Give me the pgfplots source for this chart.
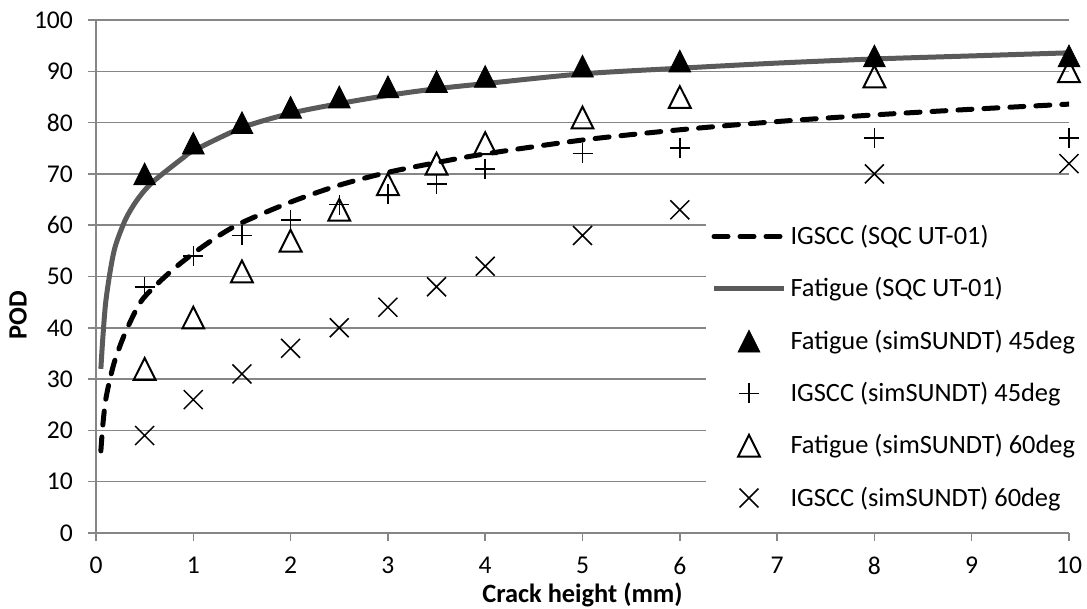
\documentclass[border=0pt]{standalone}
\usepackage{pgfplots}
\pgfplotsset{compat=1.18}
\usepackage{fontspec}
\setmainfont{Carlito}

\definecolor{gridgray}{HTML}{868686}
\definecolor{fitgray}{HTML}{5A5A5A}

\pgfplotsset{
  lineleg/.style={legend image code/.code={\draw[##1] (0pt,0pt) -- (35pt,0pt);}},
  markleg/.style={legend image code/.code={\draw[##1] plot coordinates {(17.5pt,0pt)};}},
}

\begin{document}
\begin{tikzpicture}
\begin{axis}[
  scale only axis, width=486.5pt, height=256.5pt,
  xmin=0, xmax=10, ymin=0, ymax=100,
  xtick={0,1,...,10}, ytick={0,10,...,100},
  axis x line*=bottom, axis y line*=left,
  axis line style={gridgray, line width=0.75pt},
  ymajorgrids, grid style={gridgray, line width=0.75pt},
  tick align=outside, major tick length=4pt,
  tick style={gridgray, line width=0.75pt},
  font=\fontsize{13.2}{15}\selectfont,
  /pgf/number format/assume math mode=true,
  ticklabel style={font=\fontsize{12.8}{15}\selectfont},
  yticklabel style={xshift=-4pt},
  xticklabel style={yshift=-4.5pt},
  xlabel={\textbf{Crack height (mm)}},
  ylabel={\textbf{POD}},
  x label style={at={(axis description cs:0.5,-0.12)}, anchor=center},
  y label style={at={(axis description cs:-0.0802,0.425)}, anchor=center},
  legend cell align=left,
  legend style={draw=none, fill=white, at={(axis cs:6.26,62)}, anchor=north west,
    row sep=11pt, inner sep=3pt, font=\fontsize{13.2}{15}\selectfont},
]
\addplot[black, line width=2.5pt, dash pattern=on 7pt off 6pt, line cap=round, smooth, lineleg]
  coordinates {
    (0.05,16) (0.07,21) (0.1,26) (0.15,30.5) (0.2,34) (0.3,39) (0.45,44.8)
    (0.6,48) (0.8,51.5) (1,54.5) (1.25,57.8) (1.5,60.5) (2,64.5) (2.5,67.8)
    (3,70.3) (3.5,72.2) (4,73.9) (5,76.6) (6,78.6) (7,80.2) (8,81.5)
    (9,82.6) (10,83.6)
  };
\addlegendentry{IGSCC (SQC UT-01)}
\addplot[fitgray, line width=2.5pt, smooth, lineleg]
  coordinates {
    (0.05,32) (0.07,38) (0.1,45) (0.15,51.5) (0.2,56) (0.3,61) (0.4,64.3)
    (0.5,66.8) (0.6,68.7) (0.75,71) (0.9,73.2) (1,74.5) (1.5,79) (2,81.8)
    (2.5,83.7) (3,85.3) (3.5,86.6) (4,87.6) (5,89.5) (6,90.6) (7,91.6)
    (8,92.4) (9,93) (10,93.6)
  };
\addlegendentry{Fatigue (SQC UT-01)}
\addplot[only marks, mark=triangle*, mark size=6.3pt, black,
  mark options={fill=black, yscale=1.15, yshift=-1.6pt}, markleg]
  coordinates {
    (0.5,70) (1,76) (1.5,80) (2,83) (2.5,85) (3,87) (3.5,88) (4,89)
    (5,91) (6,92) (8,93) (10,93)
  };
\addlegendentry{Fatigue (simSUNDT) 45deg}
\addplot[only marks, mark=+, mark size=5pt, black, mark options={line width=0.75pt}, markleg]
  coordinates {
    (0.5,48) (1,54) (1.5,58) (2,61) (2.5,64) (3,66) (3.5,68) (4,71)
    (5,74) (6,75) (8,77) (10,77)
  };
\addlegendentry{IGSCC (simSUNDT) 45deg}
\addplot[only marks, mark=triangle, mark size=6.3pt, black,
  mark options={line width=1pt, yscale=1.15, yshift=-1.6pt}, markleg]
  coordinates {
    (0.5,32) (1,42) (1.5,51) (2,57) (2.5,63) (3,68) (3.5,72) (4,76)
    (5,81) (6,85) (8,89) (10,90)
  };
\addlegendentry{Fatigue (simSUNDT) 60deg}
\addplot[only marks, mark=x, mark size=6.7pt, black, mark options={line width=0.75pt}, markleg]
  coordinates {
    (0.5,19) (1,26) (1.5,31) (2,36) (2.5,40) (3,44) (3.5,48) (4,52)
    (5,58) (6,63) (8,70) (10,72)
  };
\addlegendentry{IGSCC (simSUNDT) 60deg}
\end{axis}
\pgfresetboundingbox
\path (-48pt,-38pt) rectangle (495.5pt,266.5pt);
\end{tikzpicture}
\end{document}
